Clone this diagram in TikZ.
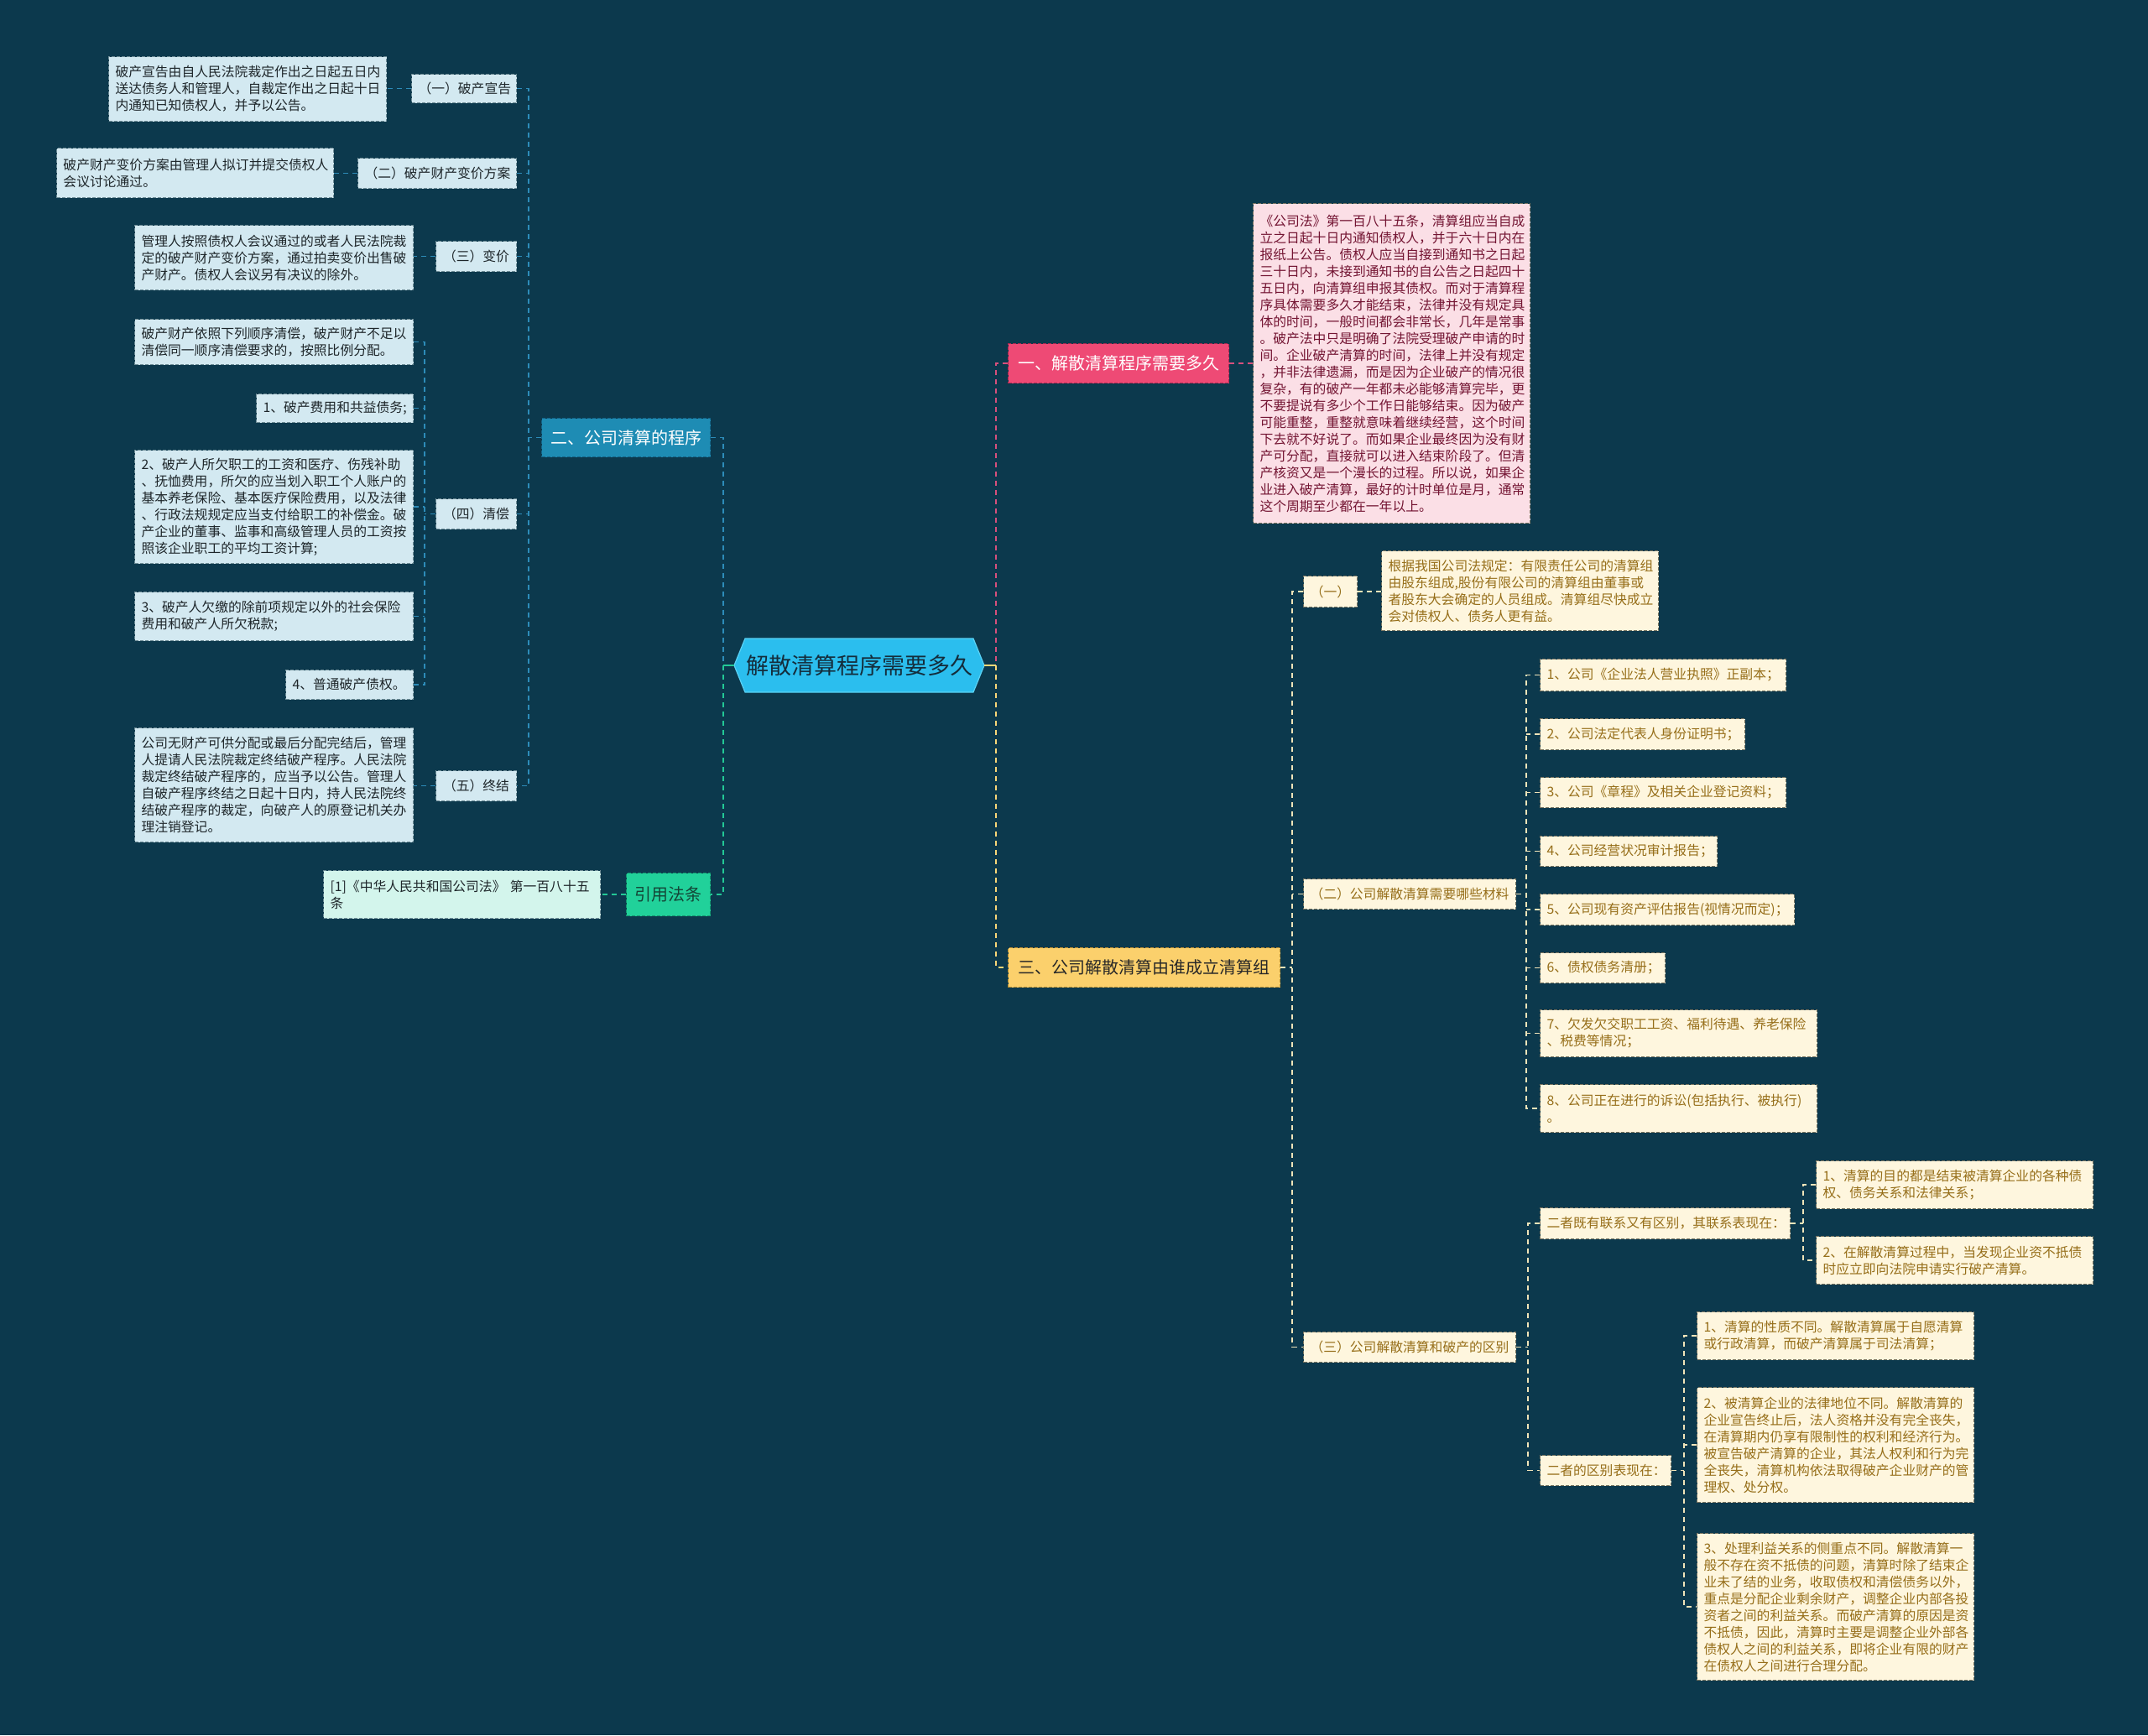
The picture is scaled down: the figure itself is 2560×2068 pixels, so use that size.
\documentclass[tikz,border=0pt]{standalone}
\usepackage{fontspec}
\setmainfont{Noto Sans CJK SC}
\newcommand\smallcn{\fontsize{7.9}{10}\selectfont}
\newcommand\hdrcn{\fontsize{10}{12}\selectfont}
\newcommand\ctrcn{\fontsize{13.5}{16}\selectfont}
\definecolor{bgc}{RGB}{12,57,77}
\definecolor{lfill}{RGB}{211,233,241}
\definecolor{lbd}{RGB}{110,140,150}
\definecolor{ltx}{RGB}{30,38,42}
\definecolor{rfill}{RGB}{254,246,222}
\definecolor{rbd}{RGB}{120,115,95}
\definecolor{rtx}{RGB}{150,110,25}
\definecolor{pfill}{RGB}{251,223,230}
\definecolor{ptx}{RGB}{115,20,50}
\definecolor{hone}{RGB}{238,74,117}
\definecolor{htwo}{RGB}{30,140,180}
\definecolor{hthree}{RGB}{251,208,108}
\definecolor{gc}{RGB}{33,209,154}
\definecolor{citefill}{RGB}{211,245,236}
\definecolor{ctr}{RGB}{43,190,238}
\definecolor{ctrtx}{RGB}{20,45,60}
\definecolor{lnb}{RGB}{45,140,185}
\definecolor{lng}{RGB}{35,200,150}
\definecolor{lnp}{RGB}{215,80,125}
\definecolor{lny}{RGB}{250,215,120}
\definecolor{lnc}{RGB}{240,228,185}
\tikzset{
  bx/.style={draw, line width=0.5pt, dash pattern=on 2pt off 1pt, inner ysep=0pt, font=\smallcn},
  lbox/.style={bx, fill=lfill, draw=lbd, text=ltx, align=left},
  lsub/.style={lbox, align=center},
  rbox/.style={bx, fill=rfill, draw=rbd, text=rtx, align=left},
  rsub/.style={rbox, align=center},
  pbox/.style={bx, fill=pfill, draw=rbd, text=ptx, align=left},
  hdr/.style={bx, font=\hdrcn, align=center},
  con/.style={line width=0.9pt, dash pattern=on 3pt off 2.5pt},
  cb/.style={con, draw=lnb},
  cg/.style={con, draw=lng},
  cp/.style={con, draw=lnp},
  cy/.style={con, draw=lny},
  cc/.style={con, draw=lnc},
}
\newcommand\mybox[7]{%
  \pgfmathsetmacro\bxw{(#5-#3)*0.5}%
  \pgfmathsetmacro\bxh{(#6-#4)*0.5}%
  \pgfmathsetmacro\bxt{(#5-#3)*0.5-8}%
  \node[#2, anchor=north west, inner xsep=4pt, minimum width=\bxw pt, minimum height=\bxh pt, text width=\bxt pt] (#1) at (#3,#4) {#7};%
}
\begin{document}
\begin{tikzpicture}[x=0.5pt,y=-0.5pt]
\useasboundingbox (0,0) rectangle (2560,2068);
\fill[bgc] (0,0) rectangle (2560,2068);

% center
\fill[ctr] (875,793) -- (888,761) -- (1160,761) -- (1173,793) -- (1160,825) -- (888,825) -- cycle;
\draw[line width=0.6pt, draw={rgb,255:red,90;green,210;blue,245}] (875,793) -- (888,761) -- (1160,761) -- (1173,793) -- (1160,825) -- (888,825) -- cycle;
\node[minimum width=149pt, minimum height=32pt, inner sep=0pt, font=\ctrcn, text=ctrtx] (c) at (1024,793) {解散清算程序需要多久};

% coordinates of trunks
\coordinate (tA) at (630,0);
\coordinate (tB) at (506,0);
\coordinate (tM) at (862,0);
\coordinate (tR) at (1187,0);
\coordinate (tT) at (1540,0);
\coordinate (tTwo) at (1819,0);
\coordinate (tThree) at (1821,0);
\coordinate (tBa) at (2149,0);
\coordinate (tBb) at (2007,0);

% ---------------- left branch
\mybox{H2}{hdr, fill=htwo, draw={rgb,255:red,20;green,100;blue,135}, text=white}{645}{498}{846}{544}{二、公司清算的程序}
\mybox{L1t}{lbox}{129}{67}{460}{144}{破产宣告由自人民法院裁定作出之日起五日内\\送达债务人和管理人，自裁定作出之日起十日\\内通知已知债权人，并予以公告。}
\mybox{L1}{lsub}{490}{88}{615}{122}{（一）破产宣告}
\mybox{L2t}{lbox}{67}{176}{397}{235}{破产财产变价方案由管理人拟订并提交债权人\\会议讨论通过。}
\mybox{L2}{lsub}{426}{188}{615}{224}{（二）破产财产变价方案}
\mybox{L3t}{lbox}{160}{268}{492}{345}{管理人按照债权人会议通过的或者人民法院裁\\定的破产财产变价方案，通过拍卖变价出售破\\产财产。债权人会议另有决议的除外。}
\mybox{L3}{lsub}{519}{287}{615}{323}{（三）变价}
\mybox{L4}{lsub}{519}{594}{615}{630}{（四）清偿}
\mybox{L4a}{lbox}{160}{380}{492}{434}{破产财产依照下列顺序清偿，破产财产不足以\\清偿同一顺序清偿要求的，按照比例分配。}
\mybox{L4b}{lbox}{305}{469}{492}{503}{1、破产费用和共益债务;}
\mybox{L4c}{lbox}{160}{536}{492}{671}{2、破产人所欠职工的工资和医疗、伤残补助\\、抚恤费用，所欠的应当划入职工个人账户的\\基本养老保险、基本医疗保险费用，以及法律\\、行政法规规定应当支付给职工的补偿金。破\\产企业的董事、监事和高级管理人员的工资按\\照该企业职工的平均工资计算;}
\mybox{L4d}{lbox}{160}{705}{492}{763}{3、破产人欠缴的除前项规定以外的社会保险\\费用和破产人所欠税款;}
\mybox{L4e}{lbox}{340}{798}{492}{833}{4、普通破产债权。}
\mybox{L5}{lsub}{519}{918}{615}{954}{（五）终结}
\mybox{L5t}{lbox}{160}{867}{492}{1003}{公司无财产可供分配或最后分配完结后，管理\\人提请人民法院裁定终结破产程序。人民法院\\裁定终结破产程序的，应当予以公告。管理人\\自破产程序终结之日起十日内，持人民法院终\\结破产程序的裁定，向破产人的原登记机关办\\理注销登记。}
\mybox{Cite}{hdr, fill=gc, draw={rgb,255:red,20;green,150;blue,110}, text={rgb,255:red,20;green,70;blue,55}}{746}{1040}{846}{1091}{引用法条}
\mybox{CiteT}{bx, fill=citefill, draw=lbd, text=ltx, align=left}{385}{1037}{715}{1094}{[1]《中华人民共和国公司法》 第一百八十五\\条}

% ---------------- right branch
\mybox{H1}{hdr, fill=hone, draw={rgb,255:red,170;green,40;blue,80}, text=white}{1201}{409}{1464}{456}{一、解散清算程序需要多久}
\mybox{P}{pbox}{1493}{242}{1823}{623}{《公司法》第一百八十五条，清算组应当自成\\立之日起十日内通知债权人，并于六十日内在\\报纸上公告。债权人应当自接到通知书之日起\\三十日内，未接到通知书的自公告之日起四十\\五日内，向清算组申报其债权。而对于清算程\\序具体需要多久才能结束，法律并没有规定具\\体的时间，一般时间都会非常长，几年是常事\\。破产法中只是明确了法院受理破产申请的时\\间。企业破产清算的时间，法律上并没有规定\\，并非法律遗漏，而是因为企业破产的情况很\\复杂，有的破产一年都未必能够清算完毕，更\\不要提说有多少个工作日能够结束。因为破产\\可能重整，重整就意味着继续经营，这个时间\\下去就不好说了。而如果企业最终因为没有财\\产可分配，直接就可以进入结束阶段了。但清\\产核资又是一个漫长的过程。所以说，如果企\\业进入破产清算，最好的计时单位是月，通常\\这个周期至少都在一年以上。}
\mybox{H3}{hdr, fill=hthree, draw={rgb,255:red,180;green,140;blue,50}, text={rgb,255:red,40;green,40;blue,40}}{1201}{1129}{1525}{1176}{三、公司解散清算由谁成立清算组}
\mybox{A1}{rsub}{1553}{686}{1617}{723}{（一）}
\mybox{A1t}{rbox}{1646}{656}{1976}{751}{根据我国公司法规定：有限责任公司的清算组\\由股东组成,股份有限公司的清算组由董事或\\者股东大会确定的人员组成。清算组尽快成立\\会对债权人、债务人更有益。}
\mybox{A2}{rsub}{1553}{1047}{1806}{1083}{（二）公司解散清算需要哪些材料}
\mybox{M1}{rbox}{1835}{785}{2128}{823}{1、公司《企业法人营业执照》正副本；}
\mybox{M2}{rbox}{1835}{856}{2079}{893}{2、公司法定代表人身份证明书；}
\mybox{M3}{rbox}{1835}{926}{2128}{962}{3、公司《章程》及相关企业登记资料；}
\mybox{M4}{rbox}{1835}{996}{2046}{1032}{4、公司经营状况审计报告；}
\mybox{M5}{rbox}{1835}{1065}{2138}{1102}{5、公司现有资产评估报告(视情况而定)；}
\mybox{M6}{rbox}{1835}{1135}{1984}{1171}{6、债权债务清册；}
\mybox{M7}{rbox}{1835}{1203}{2165}{1259}{7、欠发欠交职工工资、福利待遇、养老保险\\、税费等情况；}
\mybox{M8}{rbox}{1835}{1292}{2165}{1349}{8、公司正在进行的诉讼(包括执行、被执行)\\。}
\mybox{A3}{rsub}{1553}{1587}{1806}{1623}{（三）公司解散清算和破产的区别}
\mybox{B1}{rsub}{1835}{1439}{2133}{1476}{二者既有联系又有区别，其联系表现在：}
\mybox{B1a}{rbox}{2164}{1383}{2494}{1440}{1、清算的目的都是结束被清算企业的各种债\\权、债务关系和法律关系；}
\mybox{B1b}{rbox}{2164}{1473}{2494}{1530}{2、在解散清算过程中，当发现企业资不抵债\\时应立即向法院申请实行破产清算。}
\mybox{B2}{rsub}{1835}{1734}{1991}{1770}{二者的区别表现在：}
\mybox{B2a}{rbox}{2022}{1563}{2352}{1620}{1、清算的性质不同。解散清算属于自愿清算\\或行政清算，而破产清算属于司法清算；}
\mybox{B2b}{rbox}{2022}{1653}{2352}{1790}{2、被清算企业的法律地位不同。解散清算的\\企业宣告终止后，法人资格并没有完全丧失，\\在清算期内仍享有限制性的权利和经济行为。\\被宣告破产清算的企业，其法人权利和行为完\\全丧失，清算机构依法取得破产企业财产的管\\理权、处分权。}
\mybox{B2c}{rbox}{2022}{1827}{2352}{2002}{3、处理利益关系的侧重点不同。解散清算一\\般不存在资不抵债的问题，清算时除了结束企\\业未了结的业务，收取债权和清偿债务以外，\\重点是分配企业剩余财产，调整企业内部各投\\资者之间的利益关系。而破产清算的原因是资\\不抵债，因此，清算时主要是调整企业外部各\\债权人之间的利益关系，即将企业有限的财产\\在债权人之间进行合理分配。}

% ---------------- connectors left
\draw[cb] (L1.west) -- (L1.west -| L1t.east);
\draw[cb] (L2.west) -- (L2.west -| L2t.east);
\draw[cb] (L3.west) -- (L3.west -| L3t.east);
\draw[cb] (L5.west) -- (L5.west -| L5t.east);
\draw[cb] (L1.east) -- (L1.east -| tA) -- (L5.east -| tA) -- (L5.east);
\draw[cb] (L2.east) -- (L2.east -| tA);
\draw[cb] (L3.east) -- (L3.east -| tA);
\draw[cb] (L4.east) -- (L4.east -| tA);
\draw[cb] (H2.west) -- (H2.west -| tA);
\draw[cb] (L4.west) -- (L4.west -| tB);
\draw[cb] (L4a.east) -- (L4a.east -| tB) -- (L4e.east -| tB) -- (L4e.east);
\draw[cb] (L4b.east) -- (L4b.east -| tB);
\draw[cb] (L4c.east) -- (L4c.east -| tB);
\draw[cb] (L4d.east) -- (L4d.east -| tB);
\draw[cb] (H2.east) -- (H2.east -| tM) -- (c.west -| tM);
\draw[cg] (c.west -| tM) -- (Cite.east -| tM) -- (Cite.east);
\draw[line width=1.2pt, draw=lng] (c.west) -- (c.west -| tM);
\draw[cg] (Cite.west) -- (Cite.west -| CiteT.east);

% ---------------- connectors right
\draw[cp] (H1.west) -- (H1.west -| tR) -- (c.east -| tR);
\draw[cy] (c.east -| tR) -- (H3.west -| tR) -- (H3.west);
\draw[line width=1.2pt, draw=lny] (c.east) -- (c.east -| tR);
\draw[cp] (H1.east) -- (H1.east -| P.west);
\draw[cc] (H3.east) -- (H3.east -| tT);
\draw[cc] (A1.west) -- (A1.west -| tT) -- (A3.west -| tT) -- (A3.west);
\draw[cc] (A2.west) -- (A2.west -| tT);
\draw[cc] (A1.east) -- (A1.east -| A1t.west);
\draw[cc] (A2.east) -- (A2.east -| tTwo);
\draw[cc] (M1.west) -- (M1.west -| tTwo) -- (M8.west -| tTwo) -- (M8.west);
\draw[cc] (M2.west) -- (M2.west -| tTwo);
\draw[cc] (M3.west) -- (M3.west -| tTwo);
\draw[cc] (M4.west) -- (M4.west -| tTwo);
\draw[cc] (M5.west) -- (M5.west -| tTwo);
\draw[cc] (M6.west) -- (M6.west -| tTwo);
\draw[cc] (M7.west) -- (M7.west -| tTwo);
\draw[cc] (A3.east) -- (A3.east -| tThree);
\draw[cc] (B1.west) -- (B1.west -| tThree) -- (B2.west -| tThree) -- (B2.west);
\draw[cc] (B1.east) -- (B1.east -| tBa);
\draw[cc] (B1a.west) -- (B1a.west -| tBa) -- (B1b.west -| tBa) -- (B1b.west);
\draw[cc] (B2.east) -- (B2.east -| tBb);
\draw[cc] (B2a.west) -- (B2a.west -| tBb) -- (B2c.west -| tBb) -- (B2c.west);
\draw[cc] (B2b.west) -- (B2b.west -| tBb);
\end{tikzpicture}
\end{document}
